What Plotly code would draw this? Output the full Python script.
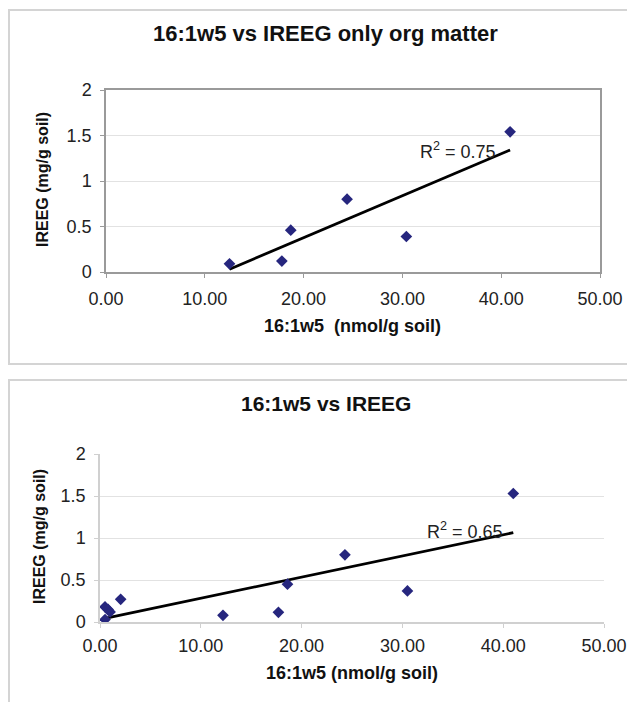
import numpy as np
import plotly.graph_objects as go

# ---- data ----
top_title = "16:1w5 vs IREEG only org matter"
top_x = [12.5, 17.8, 18.7, 24.4, 30.4, 40.9]
top_y = [0.09, 0.12, 0.46, 0.80, 0.39, 1.54]
top_r2_label = "R<sup>2</sup> = 0.75"

bot_title = "16:1w5 vs IREEG"
bot_x = [0.5, 0.8, 1.0, 0.5, 2.05, 12.2, 17.7, 18.6, 24.3, 30.5, 41.0]
bot_y = [0.18, 0.15, 0.12, 0.03, 0.27, 0.08, 0.115, 0.45, 0.80, 0.37, 1.53]
bot_r2_label = "R<sup>2</sup> = 0.65"

x_ticks = [0, 10, 20, 30, 40, 50]
y_ticks = [0, 0.5, 1, 1.5, 2]
y_title = "IREEG (mg/g soil)"
top_xtitle = "16:1w5  (nmol/g soil)"
bot_xtitle = "16:1w5 (nmol/g soil)"

W, H = 635, 702
OFF = 8  # page body margin: the figure div starts 8px in from the window edge
FONT = "Arial, Liberation Sans, sans-serif"
MARK = "#26267e"


def fit_line(xs, ys):
    xs = np.asarray(xs, float)
    ys = np.asarray(ys, float)
    m, b = np.polyfit(xs, ys, 1)
    lx = np.array([xs.min(), xs.max()])
    return lx, m * lx + b


def px_x(p):
    return (p - OFF) / W


def px_y(p):
    return 1 - (p - OFF) / H


fig = go.Figure()

# top chart
lx, ly = fit_line(top_x, top_y)
fig.add_trace(go.Scatter(x=lx, y=ly, mode="lines", line=dict(color="black", width=2.8),
                         xaxis="x", yaxis="y", showlegend=False, hoverinfo="skip"))
fig.add_trace(go.Scatter(x=top_x, y=top_y, mode="markers",
                         marker=dict(symbol="diamond", size=9, color=MARK),
                         xaxis="x", yaxis="y", showlegend=False))

# bottom chart
lx2, ly2 = fit_line(bot_x, bot_y)
fig.add_trace(go.Scatter(x=lx2, y=ly2, mode="lines", line=dict(color="black", width=2.8),
                         xaxis="x2", yaxis="y2", showlegend=False, hoverinfo="skip"))
fig.add_trace(go.Scatter(x=bot_x, y=bot_y, mode="markers",
                         marker=dict(symbol="diamond", size=9, color=MARK),
                         xaxis="x2", yaxis="y2", showlegend=False))

tickfont = dict(family=FONT, size=18, color="#222")

common_x = dict(range=[0, 50], tickvals=x_ticks, tickformat=".2f", showgrid=False,
                zeroline=False, ticks="outside", ticklen=4, tickfont=tickfont,
                automargin=False)
common_y = dict(range=[0, 2], tickvals=y_ticks, showgrid=True, gridcolor="#e2e2e2",
                gridwidth=1, zeroline=False, ticks="outside", ticklen=4,
                tickfont=tickfont, ticklabelstandoff=5, automargin=False)

fig.update_layout(
    width=W, height=H,
    margin=dict(l=0, r=0, t=0, b=0, autoexpand=False),
    paper_bgcolor="white", plot_bgcolor="white",
    xaxis=dict(domain=[px_x(106), px_x(600)], anchor="y", showline=True,
               linecolor="#9a9a9a", linewidth=1.5, mirror=True, tickcolor="#9a9a9a",
               ticklabelstandoff=6, **common_x),
    yaxis=dict(domain=[px_y(272), px_y(90)], anchor="x", showline=True,
               linecolor="#9a9a9a", linewidth=1.5, mirror=True, tickcolor="#9a9a9a",
               **common_y),
    xaxis2=dict(domain=[px_x(100), px_x(604)], anchor="y2", showline=True,
                linecolor="#d0d0d0", linewidth=1.5, tickcolor="#d0d0d0",
                ticklabelstandoff=3, **common_x),
    yaxis2=dict(domain=[px_y(622), px_y(454)], anchor="x2", showline=True,
                linecolor="#d0d0d0", linewidth=1.5, tickcolor="#d0d0d0", **common_y),
)

# outer chart boxes
fig.add_shape(type="rect", xref="paper", yref="paper",
              x0=px_x(9), y0=px_y(364), x1=1.05, y1=px_y(10),
              line=dict(color="#d4d4d4", width=2), layer="below")
fig.add_shape(type="rect", xref="paper", yref="paper",
              x0=px_x(9), y0=-0.05, x1=1.05, y1=px_y(380),
              line=dict(color="#d4d4d4", width=2), layer="below")

ann = []
# titles
ann.append(dict(text=f"<b>{top_title}</b>", x=px_x(325), y=px_y(33), xref="paper", yref="paper",
                showarrow=False, font=dict(family=FONT, size=22, color="#111"),
                xanchor="center", yanchor="middle"))
ann.append(dict(text=f"<b>{bot_title}</b>", x=px_x(326), y=px_y(403), xref="paper", yref="paper",
                showarrow=False, font=dict(family=FONT, size=21, color="#111"),
                xanchor="center", yanchor="middle"))
# x titles
ann.append(dict(text=f"<b>{top_xtitle}</b>", x=px_x(352), y=px_y(326), xref="paper", yref="paper",
                showarrow=False, font=dict(family=FONT, size=18, color="#111"),
                xanchor="center", yanchor="middle"))
ann.append(dict(text=f"<b>{bot_xtitle}</b>", x=px_x(352), y=px_y(673), xref="paper", yref="paper",
                showarrow=False, font=dict(family=FONT, size=18, color="#111"),
                xanchor="center", yanchor="middle"))
# y titles
ann.append(dict(text=f"<b>{y_title}</b>", x=px_x(43), y=px_y(180), xref="paper", yref="paper",
                showarrow=False, textangle=-90, font=dict(family=FONT, size=16, color="#111"),
                xanchor="center", yanchor="middle"))
ann.append(dict(text=f"<b>{y_title}</b>", x=px_x(39), y=px_y(537), xref="paper", yref="paper",
                showarrow=False, textangle=-90, font=dict(family=FONT, size=16, color="#111"),
                xanchor="center", yanchor="middle"))
# R² labels
ann.append(dict(text=top_r2_label, x=px_x(418), y=px_y(150), xref="paper", yref="paper",
                showarrow=False, font=dict(family=FONT, size=18, color="#222"),
                xanchor="left", yanchor="middle"))
ann.append(dict(text=bot_r2_label, x=px_x(425), y=px_y(530), xref="paper", yref="paper",
                showarrow=False, font=dict(family=FONT, size=18, color="#222"),
                xanchor="left", yanchor="middle"))

fig.update_layout(annotations=ann)

fig.write_html("out.html")
